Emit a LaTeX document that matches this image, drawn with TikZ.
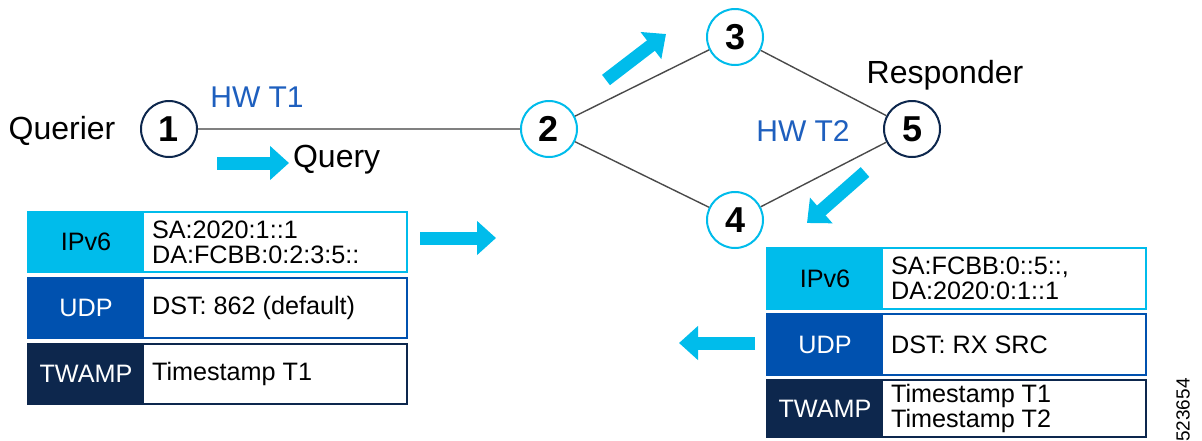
\documentclass[tikz,border=0pt]{standalone}
\usepackage{fontspec}
\setmainfont{Liberation Sans}
\usetikzlibrary{arrows.meta}
\definecolor{ciscocyan}{HTML}{00BCEB}
\definecolor{ciscoblue}{HTML}{0051AF}
\definecolor{cisconavy}{HTML}{0D274D}
\definecolor{rowgray}{HTML}{3E4B66}
\definecolor{hwblue}{HTML}{1E5FBE}
\definecolor{linkgray}{HTML}{4A4A4A}
\tikzset{
  hop/.style={circle, draw, line width=1pt, minimum size=28pt, inner sep=0pt, fill=white,
    font=\fontsize{18}{18}\selectfont\bfseries},
  biglabel/.style={font=\fontsize{16}{16}\selectfont},
  hwlabel/.style={text=hwblue, font=\fontsize{15}{15}\selectfont},
  pkttext/.style={font=\fontsize{12.6}{12.4}\selectfont},
  link/.style={draw=linkgray, line width=0.7pt},
  fatarrow/.style={ciscocyan, line width=6.5pt, -{Triangle[length=9.5pt,width=16.5pt]}}
}
% one header row: name, left x, top y, height, colour, label colour, label, content
\newcommand\pktrow[8]{%
  \draw[#5, line width=0.8pt] (#2, #3) rectangle +(379, #4);
  \fill[#5] (#2, #3) rectangle +(116, #4);
  \node[pkttext, text=#6] (#1-l) at (#2+58, #3+#4/2) {#7};
  \node[pkttext, align=left, right] (#1-t) at (#2+117, #3+#4/2) {#8}
}
\begin{document}
\begin{tikzpicture}[x=0.5pt, y=-0.5pt]
  \useasboundingbox (0, 0) rectangle (1202, 440);

  % The hops
  \node[hop, draw=cisconavy] (n1) at (169, 129) {1};
  \node[hop, draw=ciscocyan] (n2) at (549, 129) {2};
  \node[hop, draw=ciscocyan] (n3) at (735, 37) {3};
  \node[hop, draw=ciscocyan] (n4) at (735, 220) {4};
  \node[hop, draw=cisconavy] (n5) at (912, 129) {5};
  \draw[link, draw=gray, line width=0.9pt] (n1) -- (n2);
  \draw[link] (n2) -- (n3) -- (n5) -- (n4) -- (n2);

  % Labels
  \node[biglabel] (querier) at (62, 131) {Querier};
  \node[biglabel] (responder) at (945, 75) {Responder};
  \node[hwlabel] (hwt1) at (257, 97) {HW T1};
  \node[hwlabel] (hwt2) at (803, 131) {HW T2};
  \node[biglabel, right] (query) at (286, 160) {Query};
  \coordinate (qtail) at (217, 163);
  \coordinate (qhead) at (289, 163);

  % Direction arrows
  \draw[fatarrow] (qtail) -- (qhead);
  \draw[fatarrow] (606, 80) -- (666, 34);
  \draw[fatarrow] (865, 172) -- (807, 223);
  \draw[fatarrow] (420, 238) -- (496, 238);
  \draw[fatarrow] (755, 343) -- (679, 343);

  % Query packet
  \pktrow{qip}{28}{212}{60}{ciscocyan}{black}{IPv6}{SA:2020:1::1\\DA:FCBB:0:2:3:5::};
  \pktrow{qudp}{28}{278}{60}{ciscoblue}{white}{UDP}{DST: 862 (default)};
  \pktrow{qtw}{28}{344}{60}{cisconavy}{white}{TWAMP}{Timestamp T1};

  % Reply packet
  \pktrow{rip}{767}{248}{61}{ciscocyan}{black}{IPv6}{SA:FCBB:0::5::,\\DA:2020:0:1::1};
  \pktrow{rudp}{767}{314}{61}{ciscoblue}{white}{UDP}{DST: RX SRC};
  \pktrow{rtw}{767}{380}{57}{cisconavy}{white}{TWAMP}{Timestamp T1\\Timestamp T2};

  \node[rotate=90, font=\fontsize{9.5}{10}\selectfont] (figid) at (1183, 410) {523654};
\end{tikzpicture}
\end{document}
